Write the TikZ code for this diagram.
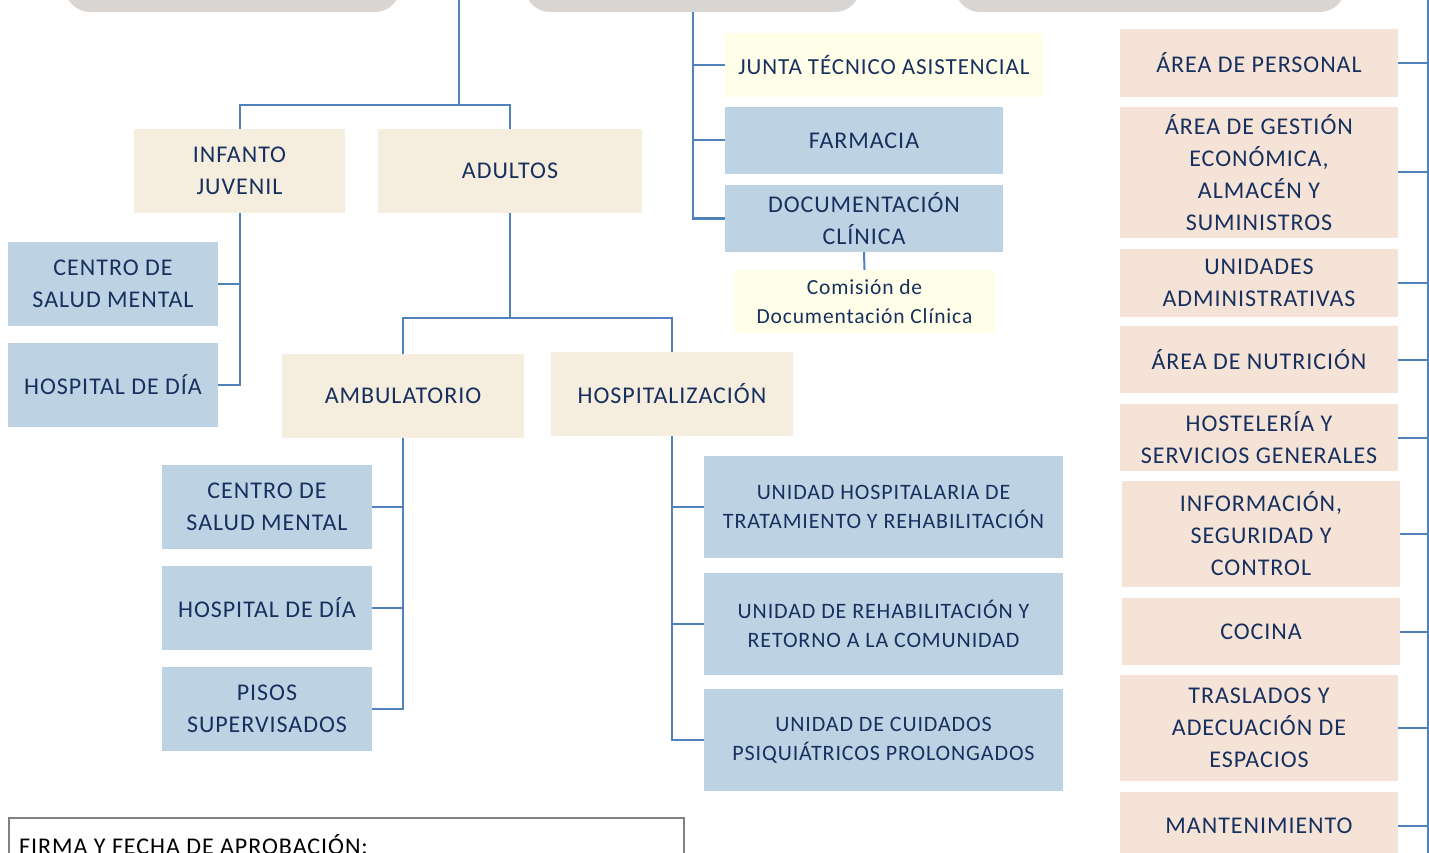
\documentclass[tikz,border=0pt]{standalone}
\usepackage{fontspec}
\setmainfont{Carlito}[LetterSpace=4]
\usepackage{tikz}
\usetikzlibrary{positioning}
\definecolor{navy}{RGB}{23,48,94}
\definecolor{greybox}{RGB}{216,213,211}
\definecolor{beige}{RGB}{245,237,221}
\definecolor{bluebox}{RGB}{189,211,228}
\definecolor{yellowbox}{RGB}{255,254,232}
\definecolor{peach}{RGB}{246,227,216}
\definecolor{linkblue}{RGB}{79,129,189}
\tikzstyle{cabecera} = [rectangle, rounded corners=25pt, minimum height=52pt, fill=greybox]
\tikzstyle{caja} = [rectangle, inner sep=2pt, align=center, text=navy, font=\fontsize{24}{32}\selectfont]
\tikzstyle{etapa} = [caja, minimum height=84pt, fill=beige]
\tikzstyle{recurso} = [caja, minimum width=210pt, minimum height=84pt, fill=bluebox]
\tikzstyle{unidad} = [caja, minimum width=359pt, minimum height=102pt, fill=bluebox, font=\fontsize{22}{29}\selectfont]
\tikzstyle{junta} = [caja, fill=yellowbox]
\tikzstyle{servicio} = [caja, minimum width=278pt, fill=peach]
\tikzstyle{firmabox} = [rectangle, draw=black!50, line width=1.5pt, minimum width=675pt, minimum height=70pt]
\tikzstyle{link} = [line width=2pt, draw=linkblue]

\begin{document}
\begin{tikzpicture}[x=1pt, y=-1pt, node distance=101pt]
\useasboundingbox (0,0) rectangle (1429,853);
\node (cabA) [cabecera, minimum width=335pt] at (232.5,-14) {};
\node (cabB) [cabecera, minimum width=335pt] at (692.5,-14) {};
\node (cabC) [cabecera, minimum width=390pt] at (1150,-14) {};
\coordinate (arriba) at (459,0);
\coordinate (split1) at (459,105);
\coordinate (split2) at (510,318);
\coordinate (rtop) at (1428,0);
\coordinate (rbot) at (1428,853);

\node (infanto) [etapa, minimum width=211pt] at (239.5,171) {INFANTO\\JUVENIL};
\node (adultos) [etapa, minimum width=264pt] at (510,171) {ADULTOS};
\node (csm1) [recurso] at (113,284) {CENTRO DE\\SALUD MENTAL};
\node (hd1) [recurso, below of = csm1] {HOSPITAL DE DÍA};
\node (ambu) [etapa, minimum width=242pt] at (403,396) {AMBULATORIO};
\node (hosp) [etapa, minimum width=242pt] at (672,394) {HOSPITALIZACIÓN};
\node (csm2) [recurso] at (267,507) {CENTRO DE\\SALUD MENTAL};
\node (hd2) [recurso, below of = csm2] {HOSPITAL DE DÍA};
\node (pisos) [recurso, below of = hd2] {PISOS\\SUPERVISADOS};
\node (uhtr) [unidad] at (883.5,507) {UNIDAD HOSPITALARIA DE\\TRATAMIENTO Y REHABILITACIÓN};
\node (urrc) [unidad, below of = uhtr, node distance=116.5pt] {UNIDAD DE REHABILITACIÓN Y\\RETORNO A LA COMUNIDAD};
\node (ucpp) [unidad, below of = urrc, node distance=116.5pt] {UNIDAD DE CUIDADOS\\PSIQUIÁTRICOS PROLONGADOS};

\node (junta) [junta, minimum width=318pt, minimum height=64pt, font=\fontsize{23}{32}\selectfont] at (884,65) {JUNTA TÉCNICO ASISTENCIAL};
\node (farmacia) [recurso, minimum width=278pt, minimum height=67pt] at (864,140.5) {FARMACIA};
\node (doc) [recurso, minimum width=278pt, minimum height=67pt, below of = farmacia, node distance=78pt] {DOCUMENTACIÓN\\CLÍNICA};
\node (comision) [junta, minimum width=261pt, minimum height=63pt, font=\fontsize{21.5}{29}\selectfont] at (864.5,301.5) {Comisión de\\Documentación Clínica};

\node (personal) [servicio, minimum height=68pt] at (1259,63) {ÁREA DE PERSONAL};
\node (gestion) [servicio, minimum height=131pt] at (1259,172.5) {ÁREA DE GESTIÓN\\ECONÓMICA,\\ALMACÉN Y\\SUMINISTROS};
\node (unidades) [servicio, minimum height=68pt] at (1259,283) {UNIDADES\\ADMINISTRATIVAS};
\node (nutricion) [servicio, minimum height=67pt] at (1259,359.5) {ÁREA DE NUTRICIÓN};
\node (hosteleria) [servicio, minimum height=67pt] at (1259,437.5) {HOSTELERÍA Y\\SERVICIOS GENERALES};
\node (informacion) [servicio, minimum height=106pt] at (1261,534) {INFORMACIÓN,\\SEGURIDAD Y\\CONTROL};
\node (cocina) [servicio, minimum height=67pt] at (1261,631.5) {COCINA};
\node (traslados) [servicio, minimum height=106pt] at (1259,728) {TRASLADOS Y\\ADECUACIÓN DE\\ESPACIOS};
\node (mantenimiento) [servicio, minimum height=68pt] at (1259,826) {MANTENIMIENTO};

\node (firma) [firmabox, anchor=north west] at (8,817) {};
\node (firmatxt) [caja, text=black, anchor=west, font=\fontsize{24}{30}\selectfont] at (17,845) {FIRMA Y FECHA DE APROBACIÓN:};

\draw [link] (arriba) -- (split1) -| (infanto.north);
\draw [link] (split1) -| (adultos.north);
\draw [link] (infanto.south) |- (csm1.east);
\draw [link] (infanto.south) |- (hd1.east);
\draw [link] (adultos.south) -- (split2) -| (ambu.north);
\draw [link] (split2) -| (hosp.north);
\draw [link] (ambu.south) |- (csm2.east);
\draw [link] (ambu.south) |- (hd2.east);
\draw [link] (ambu.south) |- (pisos.east);
\draw [link] (hosp.south) |- (uhtr.west);
\draw [link] (hosp.south) |- (urrc.west);
\draw [link] (hosp.south) |- (ucpp.west);
\draw [link] (cabB.south) |- (junta.west);
\draw [link] (cabB.south) |- (farmacia.west);
\draw [link] (cabB.south) |- (doc.west);
\draw [link] (doc.south) -- (comision.north);
\draw [link] (rtop) -- (rbot);
\foreach \s in {personal, gestion, unidades, nutricion, hosteleria, informacion, cocina, traslados, mantenimiento}
  \draw [link] (\s.east) -- (\s.east -| rtop);
\end{tikzpicture}
\end{document}
